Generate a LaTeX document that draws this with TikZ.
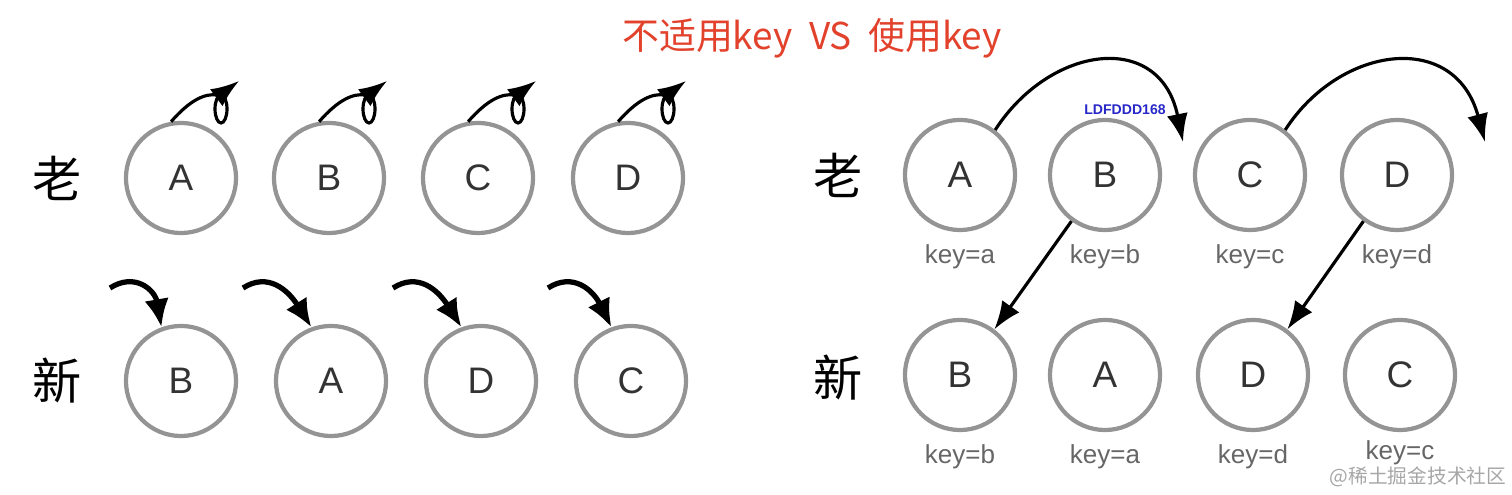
\documentclass[tikz,border=0pt]{standalone}
\usepackage{fontspec}
\setmainfont{Liberation Sans}
\newfontfamily\cjk{Noto Sans CJK SC}
\usetikzlibrary{arrows.meta}
\definecolor{titlered}{RGB}{226,66,44}
\definecolor{markblue}{RGB}{40,40,200}
\tikzset{
	ring/.style={circle, draw=black!42, line width=1.2pt, minimum size=1.1cm, inner sep=0pt, font=\fontsize{10.5}{12}\selectfont, text=black!80},
	keylabel/.style={font=\fontsize{7.4}{9}\selectfont, text=black!60},
	rowlabel/.style={font=\cjk\fontsize{14}{16}\selectfont},
	loopline/.style={line width=0.9pt},
	thinarrow/.style={line width=0.9pt, -{Latex[length=8pt, width=6pt]}},
	thickarrow/.style={line width=1.5pt, -{Latex[length=8pt, width=7pt]}}
}

\begin{document}
\begin{tikzpicture}[x=0.01cm, y=-0.01cm]
			%%%%% START %%%%%
			\useasboundingbox (0,0) rectangle (1512,495);
			
			\node[font=\cjk\fontsize{10.5}{12}\selectfont, text=titlered] (title) at (812,38) {不适用key\ \ VS\ \ 使用key};
			
			%%%%% left: without key %%%%%
			\node[rowlabel] (lold) at (57,178) {老};
			\node[rowlabel] (lnew) at (57,381) {新};
			
			\node[ring] (loA) at (181,178) {A};
			\node[ring] (loB) at (329,178) {B};
			\node[ring] (loC) at (478,178) {C};
			\node[ring] (loD) at (628,178) {D};
			
			\node[ring] (lnB) at (181,381) {B};
			\node[ring] (lnA) at (331,381) {A};
			\node[ring] (lnD) at (481,381) {D};
			\node[ring] (lnC) at (631,381) {C};
			
			% self loops on the old row
			\draw[loopline] (loA.100) .. controls (190,100) and (205,93) .. (218,95);
			\draw[loopline] (221,109) ellipse [x radius=6, y radius=14];
			\draw[thinarrow] (220,95) -- (239,81);
			
			\draw[loopline] (loB.100) .. controls (338,100) and (353,93) .. (366,95);
			\draw[loopline] (369,109) ellipse [x radius=6, y radius=14];
			\draw[thinarrow] (368,95) -- (387,81);
			
			\draw[loopline] (loC.100) .. controls (487,100) and (502,93) .. (515,95);
			\draw[loopline] (518,109) ellipse [x radius=6, y radius=14];
			\draw[thinarrow] (517,95) -- (536,81);
			
			\draw[loopline] (loD.100) .. controls (637,100) and (652,93) .. (665,95);
			\draw[loopline] (668,109) ellipse [x radius=6, y radius=14];
			\draw[thinarrow] (667,95) -- (686,81);
			
			% arrows into the new row
			\coordinate (sB) at (110,288);
			\coordinate (sA) at (243,288);
			\coordinate (sD) at (393,288);
			\coordinate (sC) at (548,288);
			\draw[thickarrow] (sB) .. controls (135,272) and (155,290) .. (lnB.110);
			\draw[thickarrow] (sA) .. controls (268,272) and (288,290) .. (lnA.110);
			\draw[thickarrow] (sD) .. controls (418,272) and (438,290) .. (lnD.110);
			\draw[thickarrow] (sC) .. controls (573,272) and (593,290) .. (lnC.110);
			
			%%%%% right: with key %%%%%
			\node[rowlabel] (rold) at (838,175) {老};
			\node[rowlabel] (rnew) at (838,378) {新};
			
			\node[ring] (roA) at (960,175) {A};
			\node[ring] (roB) at (1105,175) {B};
			\node[ring] (roC) at (1250,175) {C};
			\node[ring] (roD) at (1397,175) {D};
			
			\node[keylabel] (kroA) at (960,257) {key=a};
			\node[keylabel] (kroB) at (1105,257) {key=b};
			\node[keylabel] (kroC) at (1250,257) {key=c};
			\node[keylabel] (kroD) at (1397,257) {key=d};
			
			\node[ring] (rnB) at (960,375) {B};
			\node[ring] (rnA) at (1105,375) {A};
			\node[ring] (rnD) at (1253,375) {D};
			\node[ring] (rnC) at (1400,375) {C};
			
			\node[keylabel] (krnB) at (960,457) {key=b};
			\node[keylabel] (krnA) at (1105,457) {key=a};
			\node[keylabel] (krnD) at (1253,457) {key=d};
			\node[keylabel] (krnC) at (1400,453) {key=c};
			
			\node[font=\bfseries\fontsize{4}{5}\selectfont, text=markblue] (mark) at (1125,110) {LDFDDD168};
			
			% moves over the old row
			\coordinate (tAB) at (1183,142);
			\coordinate (tCD) at (1485,142);
			\draw[thinarrow] (roA.52) .. controls (1050,45) and (1160,30) .. (tAB);
			\draw[thinarrow] (roC.52) .. controls (1340,45) and (1455,30) .. (tCD);
			
			% old to new
			\draw[thinarrow] (roB.234) -- (rnB.53);
			\draw[thinarrow] (roD.234) -- (rnD.53);
			
			\node[font=\cjk\fontsize{5.6}{6}\selectfont, text=black!35] (wmark) at (1418,477) {@稀土掘金技术社区};
			
			%%%%% END %%%%%
\end{tikzpicture}
\end{document}
